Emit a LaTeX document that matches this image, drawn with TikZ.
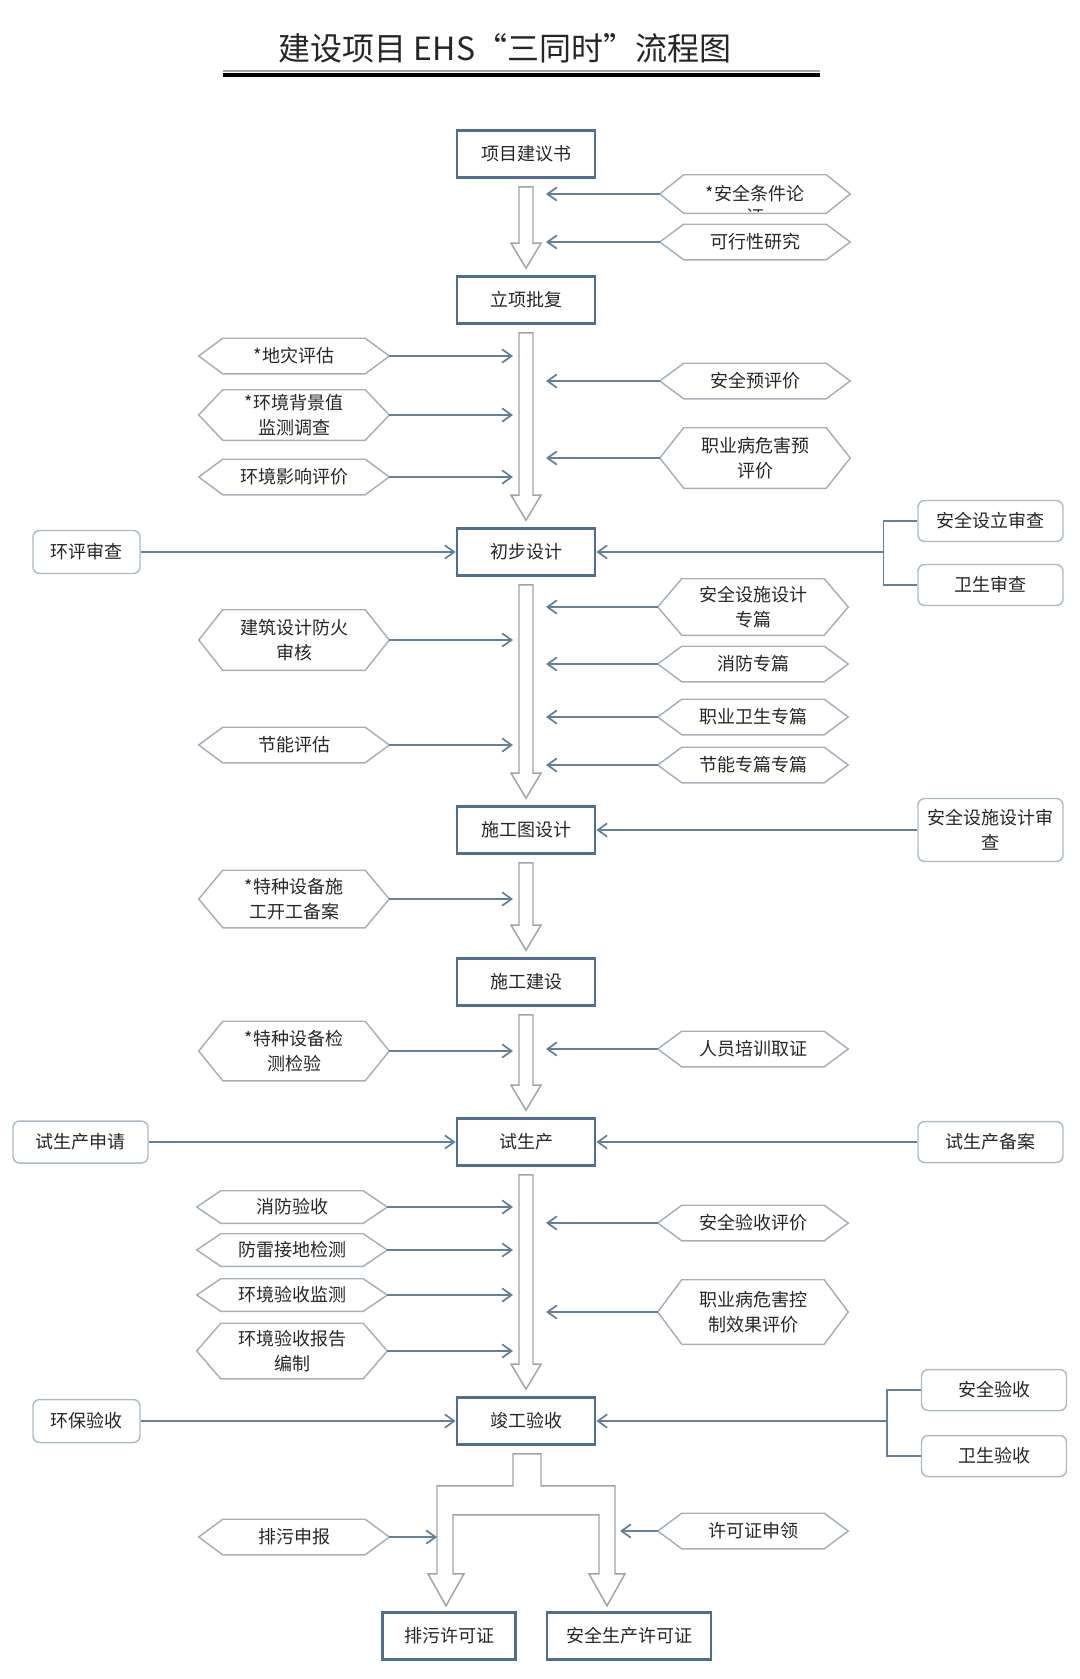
\documentclass[tikz,border=0pt]{standalone}
\usepackage{fontspec}
\setmainfont{Noto Sans CJK SC}
\usetikzlibrary{calc,arrows.meta}
\definecolor{boxblue}{RGB}{78,112,142}
\definecolor{arrowblue}{RGB}{98,128,152}
\definecolor{hexgray}{RGB}{165,175,185}
\definecolor{sidegray}{RGB}{172,188,198}
\definecolor{hollowgray}{RGB}{158,163,172}
\begin{document}
\begin{tikzpicture}[x=0.75pt,y=0.75pt,yscale=-1,xscale=1,
    font=\fontsize{13.5}{18.5}\selectfont,text=black!85,
    mainbox/.style={draw=boxblue,line width=2pt,fill=white,minimum width=103.5pt,minimum height=35.25pt,inner sep=1pt},
    sidebox/.style={draw=sidegray,line width=1.1pt,rounded corners=5pt,fill=white,minimum width=108.75pt,minimum height=30.75pt,inner sep=1pt,align=center},
    hexline/.style={draw=hexgray,line width=1.1pt},
    hexbox/.style={minimum width=142.5pt,minimum height=#1,inner sep=1pt,align=center,
        append after command={\pgfextra{\draw [hexline] (\tikzlastnode.west) -- ([xshift=18pt]\tikzlastnode.north west) -- ([xshift=-18pt]\tikzlastnode.north east) -- (\tikzlastnode.east) -- ([xshift=-18pt]\tikzlastnode.south east) -- ([xshift=18pt]\tikzlastnode.south west) -- cycle;}}},
    hexbox/.default=26.25pt,
    sidearrow/.style={draw=arrowblue,line width=1.3pt,-{Straight Barb[length=7pt,width=10pt]}},
    joinline/.style={draw=arrowblue,line width=1.1pt},
    hollow/.style={draw=hollowgray,line width=1.1pt,fill=white}]
        \useasboundingbox (0,0) rectangle (1080,1679);
        % Title
        \node (title) at (505,48) {\fontsize{24}{28}\selectfont 建设项目 EHS“三同时”流程图};
        \draw [color=black!35, line width=1.5pt] (223,70.5) -- (820,70.5) ;
        \draw [color=black, line width=3.5pt] (223,75) -- (820,75) ;

        % Main boxes
        \node [mainbox] (b1) at (526,154) {项目建议书};
        \node [mainbox] (b2) at (526,300) {立项批复};
        \node [mainbox] (b3) at (526,552) {初步设计};
        \node [mainbox] (b4) at (526,830) {施工图设计};
        \node [mainbox] (b5) at (526,982) {施工建设};
        \node [mainbox] (b6) at (526,1142) {试生产};
        \node [mainbox] (b7) at (526,1421) {竣工验收};
        \node [mainbox,minimum width=100pt] (b8) at (449,1636) {排污许可证};
        \node [mainbox,minimum width=123pt] (b9) at (629,1636) {安全生产许可证};

        % Hollow arrows
        \foreach \a/\b in {b1/b2,b2/b3,b3/b4,b4/b5,b5/b6,b6/b7}
            \draw [hollow] ($(\a.south)+(-7,8)$) -- ($(\b.north)+(-7,-32)$) -- ($(\b.north)+(-15,-32)$) -- ($(\b.north)+(0,-7)$) -- ($(\b.north)+(15,-32)$) -- ($(\b.north)+(7,-32)$) -- ($(\a.south)+(7,8)$) -- cycle;
        \draw [hollow] ($(b7.south)+(-13,8)$) -- ++(0,32) -- ++(-76,0) coordinate (lstem) -- ++(0,88) -- ++(-9,0) -- ++(18,32) -- ++(18,-32) -- ++(-11,0) -- ++(0,-59) -- ++(146,0) -- ++(0,59) -- ++(-10,0) -- ++(18,32) -- ++(18,-32) -- ++(-10,0) coordinate (rstem) -- ++(0,-88) -- ++(-74,0) -- ++(0,-32) -- cycle;

        % Left hexagons
        \node [hexbox] (l1) at (294,356) {*地灾评估};
        \node [hexbox=37.5pt] (l2) at (294,415) {*环境背景值\\监测调查};
        \node [hexbox] (l3) at (294,477) {环境影响评价};
        \node [hexbox=45pt] (l4) at (294,640) {建筑设计防火\\审核};
        \node [hexbox] (l5) at (294,745) {节能评估};
        \node [hexbox=42.75pt] (l6) at (294,899) {*特种设备施\\工开工备案};
        \node [hexbox=44.25pt] (l7) at (294,1051) {*特种设备检\\测检验};
        \node [hexbox=24pt] (l8) at (292,1207) {消防验收};
        \node [hexbox=24pt] (l9) at (292,1250) {防雷接地检测};
        \node [hexbox=24pt] (l10) at (292,1295) {环境验收监测};
        \node [hexbox=41.25pt] (l11) at (292,1351) {环境验收报告\\编制};
        \node [hexbox] (l12) at (294,1537) {排污申报};

        % Right hexagons
        \node [hexbox=28.5pt] (r1) at (755,194) {*安全条件论};
        \begin{scope}
            \clip ($(r1.north west)+(0,2)$) rectangle ($(r1.south east)+(0,-2)$);
            \node (r1b) at ($(r1.center)+(0,23)$) {证};
        \end{scope}
        \node [hexbox] (r2) at (755,242) {可行性研究};
        \node [hexbox] (r3) at (755,381) {安全预评价};
        \node [hexbox=45pt] (r4) at (755,458) {职业病危害预\\评价};
        \node [hexbox=42pt] (r5) at (753,607) {安全设施设计\\专篇};
        \node [hexbox] (r6) at (753,664) {消防专篇};
        \node [hexbox] (r7) at (753,717) {职业卫生专篇};
        \node [hexbox] (r8) at (753,765) {节能专篇专篇};
        \node [hexbox] (r9) at (753,1049) {人员培训取证};
        \node [hexbox] (r10) at (753,1223) {安全验收评价};
        \node [hexbox=48pt] (r11) at (753,1312) {职业病危害控\\制效果评价};
        \node [hexbox] (r12) at (753,1531) {许可证申领};

        % Side boxes
        \node [sidebox,minimum width=80.25pt,minimum height=32.25pt] (s1) at (86.5,552) {环评审查};
        \node [sidebox] (s2) at (990.5,521) {安全设立审查};
        \node [sidebox] (s3) at (990.5,585) {卫生审查};
        \node [sidebox,minimum height=47.25pt] (s4) at (990.5,830) {安全设施设计审\\查};
        \node [sidebox,minimum width=101.25pt,minimum height=31.5pt] (s5) at (80.5,1142) {试生产申请};
        \node [sidebox] (s6) at (990.5,1142) {试生产备案};
        \node [sidebox,minimum width=80.25pt,minimum height=32.25pt] (s7) at (86.5,1421) {环保验收};
        \node [sidebox] (s8) at (994,1390) {安全验收};
        \node [sidebox] (s9) at (994,1456) {卫生验收};

        % Arrows
        \foreach \h in {l1,l2,l3,l4,l5,l6,l7,l8,l9,l10,l11}
            \draw [sidearrow] (\h.east) -- ($(\h.east -| b1)+(-13,0)$);
        \foreach \h in {r1,r2,r3,r4,r5,r6,r7,r8,r9,r10,r11}
            \draw [sidearrow] (\h.west) -- ($(\h.west -| b1)+(20,0)$);
        \draw [sidearrow] (l12.east) -- (l12.east -| lstem);
        \draw [sidearrow] (r12.west) -- ($(r12.west -| rstem)+(5,0)$);
        \draw [sidearrow] (s1.east) -- (s1.east -| b3.west);
        \draw [joinline] (s2.west) -- ++(-34,0) coordinate (j1) -- (j1 |- s3.west) -- (s3.west);
        \draw [sidearrow] (j1 |- b3.east) -- (b3.east);
        \draw [sidearrow] (s4.west) -- (s4.west -| b4.east);
        \draw [sidearrow] (s5.east) -- (s5.east -| b6.west);
        \draw [sidearrow] (s6.west) -- (s6.west -| b6.east);
        \draw [sidearrow] (s7.east) -- (s7.east -| b7.west);
        \draw [joinline] (s8.west) -- ++(-34,0) coordinate (j2) -- (j2 |- s9.west) -- (s9.west);
        \draw [sidearrow] (j2 |- b7.east) -- (b7.east);
\end{tikzpicture}
\end{document}
